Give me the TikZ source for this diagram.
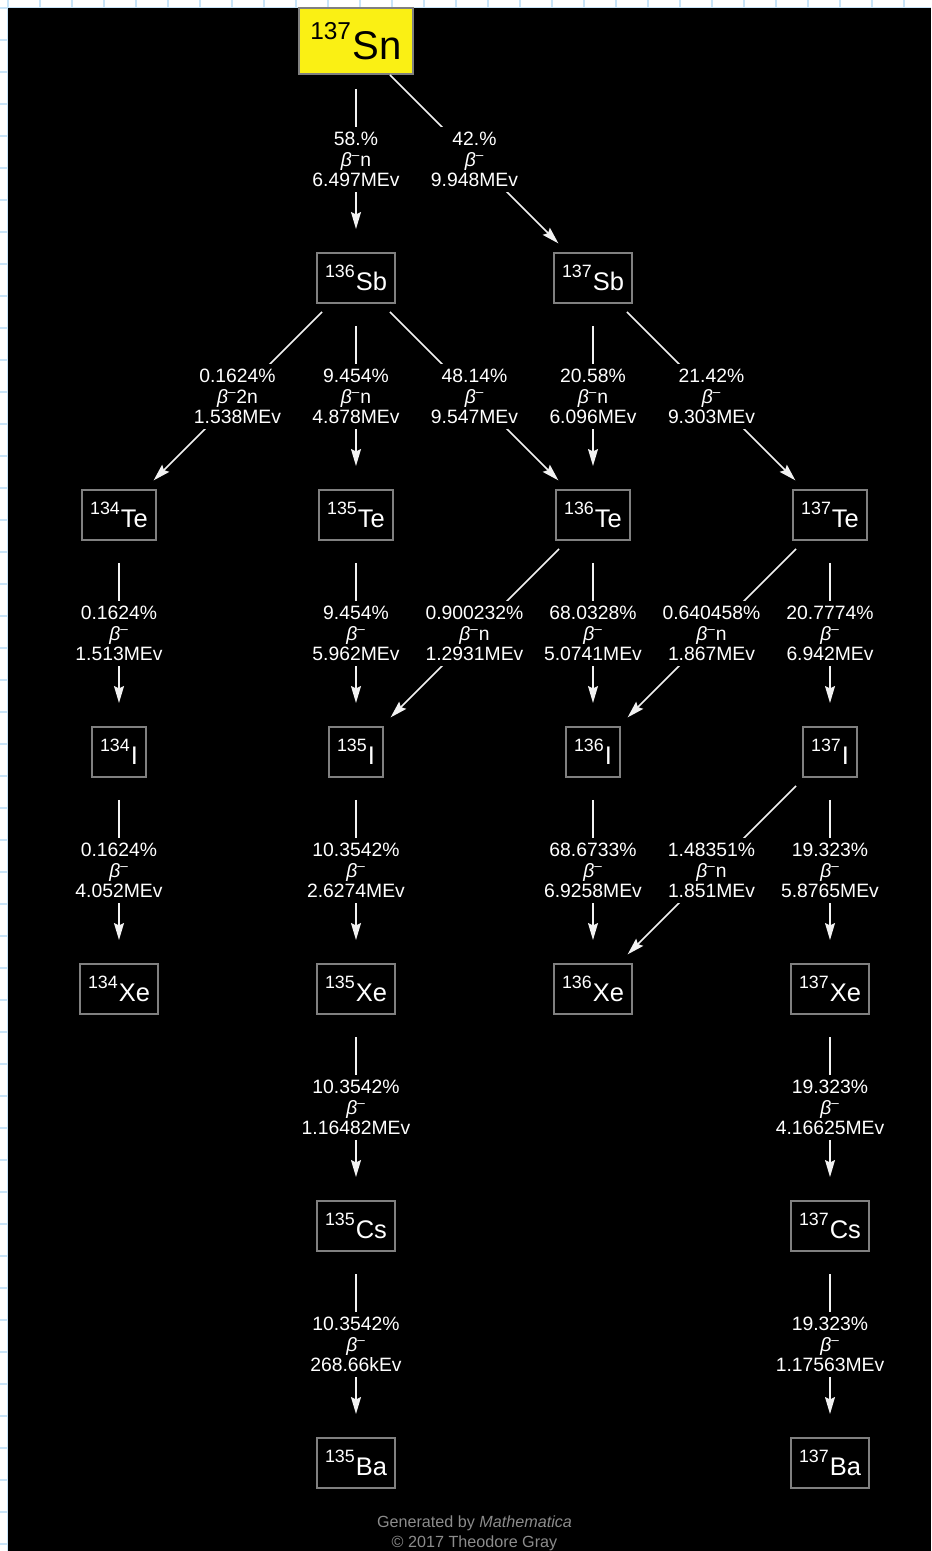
\documentclass[tikz,border=0pt]{standalone}
\usepackage{fontspec}
\setmainfont{Liberation Sans}
\usetikzlibrary{arrows.meta}

\definecolor{gridblue}{RGB}{200,228,248}
\definecolor{boxgray}{RGB}{128,128,128}
\definecolor{snyellow}{RGB}{250,240,20}
\definecolor{footgray}{RGB}{140,140,140}

\newcommand{\isot}[3][0.7]{\raisebox{0.5em}{\scalebox{#1}{#2}}\kern0.04em#3}
\newcommand{\betam}{\textit{β}\textsuperscript{–}}

\tikzset{
  nucbox/.style={draw=boxgray, line width=0.85pt, text=white, minimum height=1cm,
    inner xsep=0.16cm, font=\fontsize{14.5}{16}\selectfont},
  parent/.style={nucbox, fill=snyellow, text=black, minimum height=1.32cm,
    inner xsep=0.23cm, font=\fontsize{22.8}{24}\selectfont},
  decay/.style={-{Stealth[length=0.34cm,width=0.2cm,inset=0.05cm]}, draw=white!90!gray,
    line width=0.85pt, shorten <=0.96cm, shorten >=0.98cm},
  lbl/.style={fill=black, text=white, align=center, inner sep=0.1cm,
    font=\fontsize{11}{11.6}\selectfont},
  gridline/.style={gridblue, line width=1.4pt}
}

\begin{document}
\begin{tikzpicture}[x=0.02cm, y=-0.02cm]
    \useasboundingbox (0,0) rectangle (931,1551);

    % sheet behind the chart
    \foreach \k in {0,...,28} {
        \draw[gridline] ({8+32*\k},0) -- ({8+32*\k},1551);
    }
    \foreach \k in {0,...,48} {
        \draw[gridline] (0,{8+32*\k}) -- (931,{8+32*\k});
    }
    \fill[black] (8,8) rectangle (931,1551);

    % nuclides
    \node[parent] (Sn137) at (356,41) {\isot[0.61]{137}{Sn}};

    \node[nucbox] (Sb136) at (356,278) {\isot{136}{Sb}};
    \node[nucbox] (Sb137) at (593,278) {\isot{137}{Sb}};

    \node[nucbox] (Te134) at (119,515) {\isot{134}{Te}};
    \node[nucbox] (Te135) at (356,515) {\isot{135}{Te}};
    \node[nucbox] (Te136) at (593,515) {\isot{136}{Te}};
    \node[nucbox] (Te137) at (830,515) {\isot{137}{Te}};

    \node[nucbox] (I134) at (119,752) {\isot{134}{I}};
    \node[nucbox] (I135) at (356,752) {\isot{135}{I}};
    \node[nucbox] (I136) at (593,752) {\isot{136}{I}};
    \node[nucbox] (I137) at (830,752) {\isot{137}{I}};

    \node[nucbox] (Xe134) at (119,989) {\isot{134}{Xe}};
    \node[nucbox] (Xe135) at (356,989) {\isot{135}{Xe}};
    \node[nucbox] (Xe136) at (593,989) {\isot{136}{Xe}};
    \node[nucbox] (Xe137) at (830,989) {\isot{137}{Xe}};

    \node[nucbox] (Cs135) at (356,1226) {\isot{135}{Cs}};
    \node[nucbox] (Cs137) at (830,1226) {\isot{137}{Cs}};

    \node[nucbox] (Ba135) at (356,1463) {\isot{135}{Ba}};
    \node[nucbox] (Ba137) at (830,1463) {\isot{137}{Ba}};

    % decays
    \draw[decay] (Sn137.center) -- node[lbl] {58.\%\\\betam n\\6.497MEv} (Sb136.center);
    \draw[decay] (Sn137.center) -- node[lbl] {42.\%\\\betam\\9.948MEv} (Sb137.center);

    \draw[decay] (Sb136.center) -- node[lbl] {0.1624\%\\\betam 2n\\1.538MEv} (Te134.center);
    \draw[decay] (Sb136.center) -- node[lbl] {9.454\%\\\betam n\\4.878MEv} (Te135.center);
    \draw[decay] (Sb136.center) -- node[lbl] {48.14\%\\\betam\\9.547MEv} (Te136.center);
    \draw[decay] (Sb137.center) -- node[lbl] {20.58\%\\\betam n\\6.096MEv} (Te136.center);
    \draw[decay] (Sb137.center) -- node[lbl] {21.42\%\\\betam\\9.303MEv} (Te137.center);

    \draw[decay] (Te134.center) -- node[lbl] {0.1624\%\\\betam\\1.513MEv} (I134.center);
    \draw[decay] (Te135.center) -- node[lbl] {9.454\%\\\betam\\5.962MEv} (I135.center);
    \draw[decay] (Te136.center) -- node[lbl] {0.900232\%\\\betam n\\1.2931MEv} (I135.center);
    \draw[decay] (Te136.center) -- node[lbl] {68.0328\%\\\betam\\5.0741MEv} (I136.center);
    \draw[decay] (Te137.center) -- node[lbl] {0.640458\%\\\betam n\\1.867MEv} (I136.center);
    \draw[decay] (Te137.center) -- node[lbl] {20.7774\%\\\betam\\6.942MEv} (I137.center);

    \draw[decay] (I134.center) -- node[lbl] {0.1624\%\\\betam\\4.052MEv} (Xe134.center);
    \draw[decay] (I135.center) -- node[lbl] {10.3542\%\\\betam\\2.6274MEv} (Xe135.center);
    \draw[decay] (I136.center) -- node[lbl] {68.6733\%\\\betam\\6.9258MEv} (Xe136.center);
    \draw[decay] (I137.center) -- node[lbl] {1.48351\%\\\betam n\\1.851MEv} (Xe136.center);
    \draw[decay] (I137.center) -- node[lbl] {19.323\%\\\betam\\5.8765MEv} (Xe137.center);

    \draw[decay] (Xe135.center) -- node[lbl] {10.3542\%\\\betam\\1.16482MEv} (Cs135.center);
    \draw[decay] (Xe137.center) -- node[lbl] {19.323\%\\\betam\\4.16625MEv} (Cs137.center);
    \draw[decay] (Cs135.center) -- node[lbl] {10.3542\%\\\betam\\268.66kEv} (Ba135.center);
    \draw[decay] (Cs137.center) -- node[lbl] {19.323\%\\\betam\\1.17563MEv} (Ba137.center);

    \node[text=footgray, align=center, font=\fontsize{9.2}{11.3}\selectfont] (credit)
        at (474.5,1533) {Generated by \textit{Mathematica}\\© 2017 Theodore Gray};
\end{tikzpicture}
\end{document}
